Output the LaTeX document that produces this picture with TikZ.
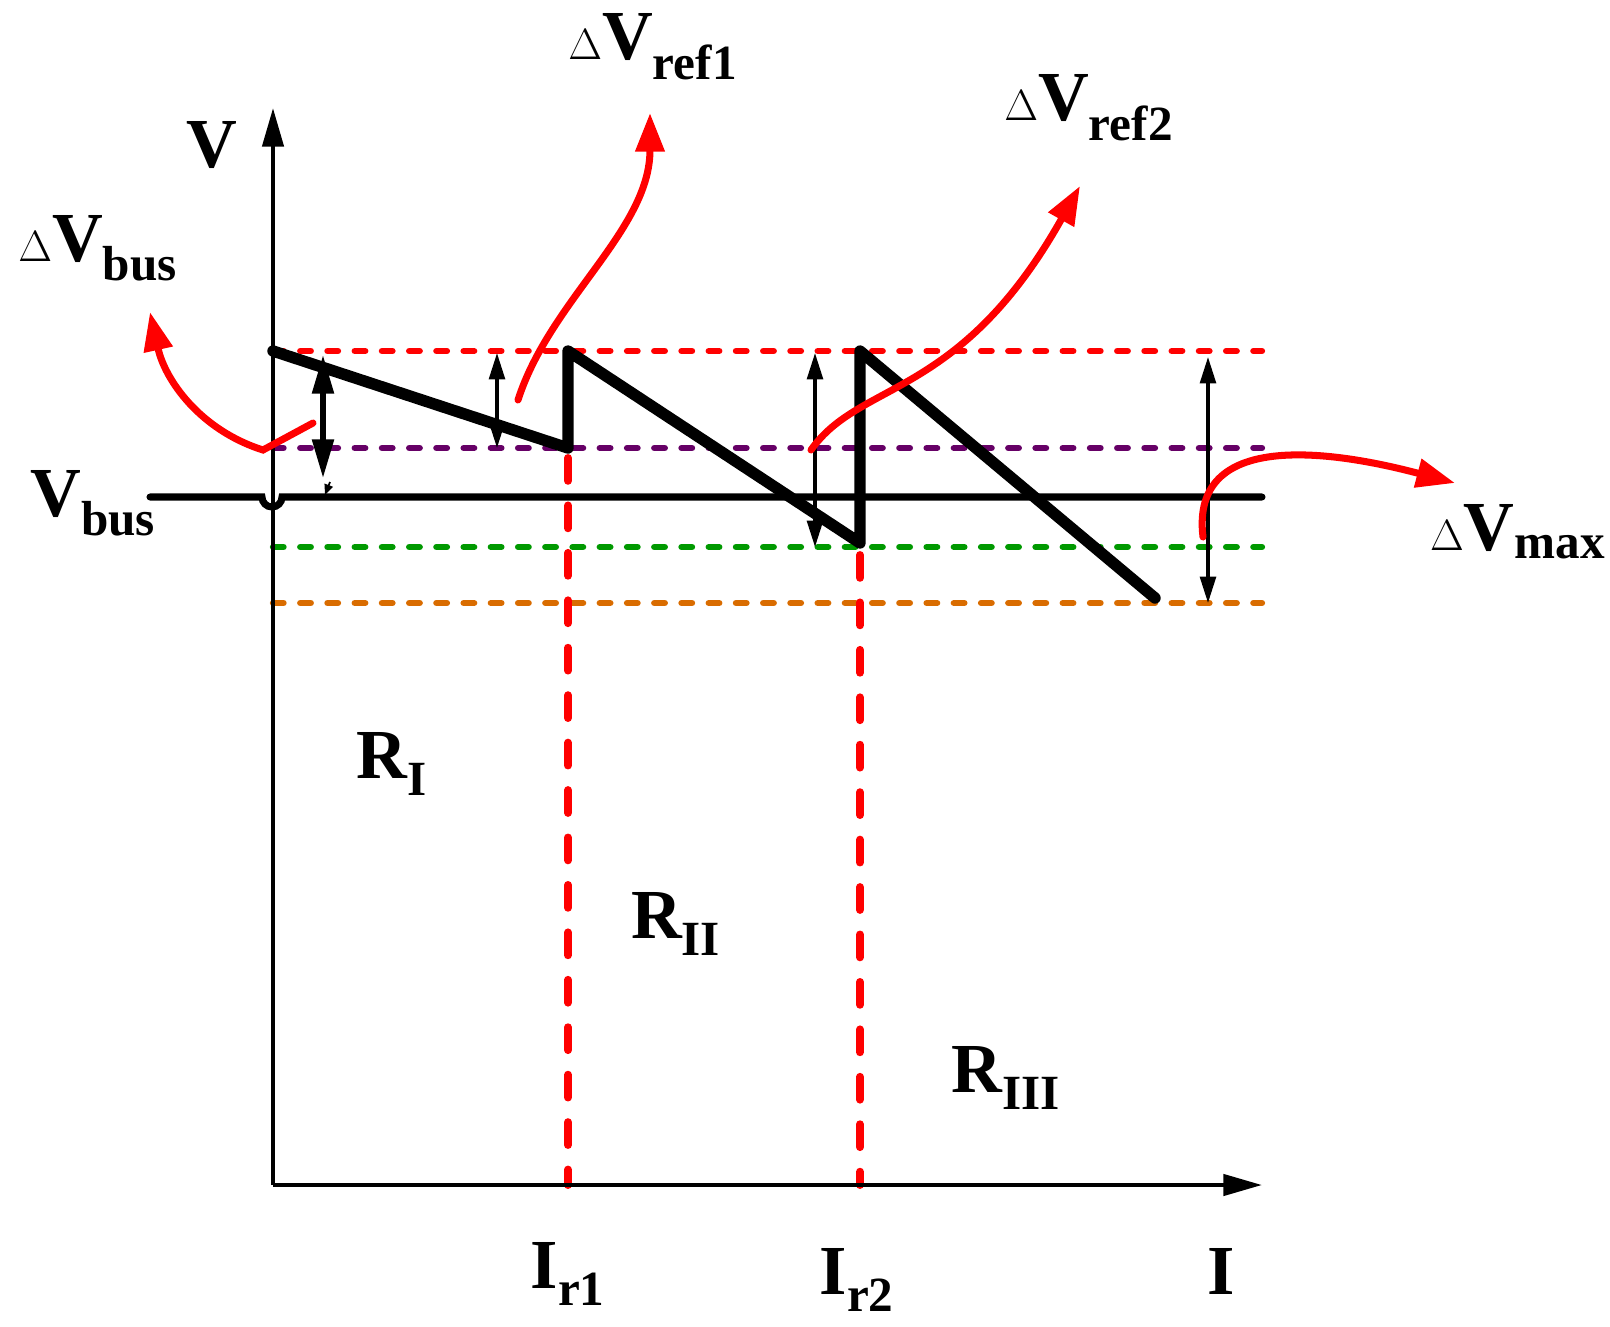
\documentclass[tikz,border=0pt]{standalone}
\usepackage{fontspec}
\setmainfont{Liberation Serif}
\usetikzlibrary{arrows.meta}
\begin{document}
\begin{tikzpicture}[x=0.02cm,y=-0.02cm,
  axis/.style={line width=2.4pt,-{Triangle[length=22pt,width=12pt]}},
  hdash/.style={line width=3.6pt,line cap=round,dash pattern=on 6pt off 9.5pt},
  vdash/.style={line width=4.5pt,red,line cap=round,dash pattern=on 13pt off 14pt},
  saw/.style={line width=6.5pt,line join=round,line cap=round},
  dbl/.style={line width=1.8pt,{Triangle[length=15pt,width=9pt]}-{Triangle[length=15pt,width=9pt]}},
  rcurve/.style={red,line width=4pt,line cap=round,-{Triangle[length=22pt,width=16pt]}},
  lbl/.style={font=\fontsize{40}{40}\selectfont\bfseries,inner sep=0pt}]
\useasboundingbox (0,0) rectangle (1610,1326);
% coordinates
\coordinate (O) at (273,1185);
\coordinate (Vtop) at (273,108);
\coordinate (Iend) at (1262,1185);
% dashed levels
\draw[hdash,red] (273,351) -- (1262,351);
\draw[hdash,violet!80!black] (273,448) -- (1262,448);
\draw[hdash,green!60!black] (273,547) -- (1262,547);
\draw[hdash,orange!85!black] (273,603) -- (1262,603);
% current thresholds
\draw[vdash] (568,458) -- (568,1185);
\draw[vdash] (860,555) -- (860,1185);
% axes
\draw[axis] (O) -- (Vtop);
\draw[axis] (O) -- (Iend);
% Vbus line with hop
\draw[line width=4pt,line cap=round] (150,497) -- (262,497) arc[start angle=180,end angle=0,radius=10] -- (1262,497);
% sawtooth
\draw[saw] (273,351) -- (568,448) -- (568,351) -- (860,543) -- (860,351) -- (1155,598);
% double arrows
\draw[line width=3pt,{Triangle[length=22pt,width=12pt]}-{Triangle[length=22pt,width=12pt]}] (323,355) -- (323,478);
\draw[line width=1pt,dashed,-{Triangle[length=6pt,width=5pt]}] (330,482) -- (325,495);
\draw[dbl] (497,353) -- (497,448);
\draw[dbl] (815,353) -- (815,547);
\draw[dbl] (1208,357) -- (1208,603);
% red callouts
\draw[rcurve] (313,423) -- (263,450) .. controls (200,430) and (165,380) .. (150,312);
\draw[rcurve] (518,400) .. controls (550,300) and (650,230) .. (650,113);
\draw[rcurve] (811,450) .. controls (860,380) and (960,400) .. (1080,186);
\draw[rcurve] (1203,537) .. controls (1190,430) and (1330,450) .. (1455,483);
% labels
\node[lbl] (lV) at (212,145) {V};
\node[lbl] (lDVbus) at (98,248) {$\Delta$V\textsubscript{bus}};
\node[lbl] (lDVref1) at (653,47) {$\Delta$V\textsubscript{ref1}};
\node[lbl] (lDVref2) at (1089,108) {$\Delta$V\textsubscript{ref2}};
\node[lbl] (lVbus) at (93,503) {V\textsubscript{bus}};
\node[lbl] (lDVmax) at (1518,532) {$\Delta$V\textsubscript{max}};
\node[lbl] (lR1) at (392,764) {R\textsubscript{I}};
\node[lbl] (lR2) at (676,924) {R\textsubscript{II}};
\node[lbl] (lR3) at (1006,1078) {R\textsubscript{III}};
\node[lbl] (lI1) at (568,1274) {I\textsubscript{r1}};
\node[lbl] (lI2) at (857,1280) {I\textsubscript{r2}};
\node[lbl] (lI) at (1221,1271) {I};
\end{tikzpicture}
\end{document}
